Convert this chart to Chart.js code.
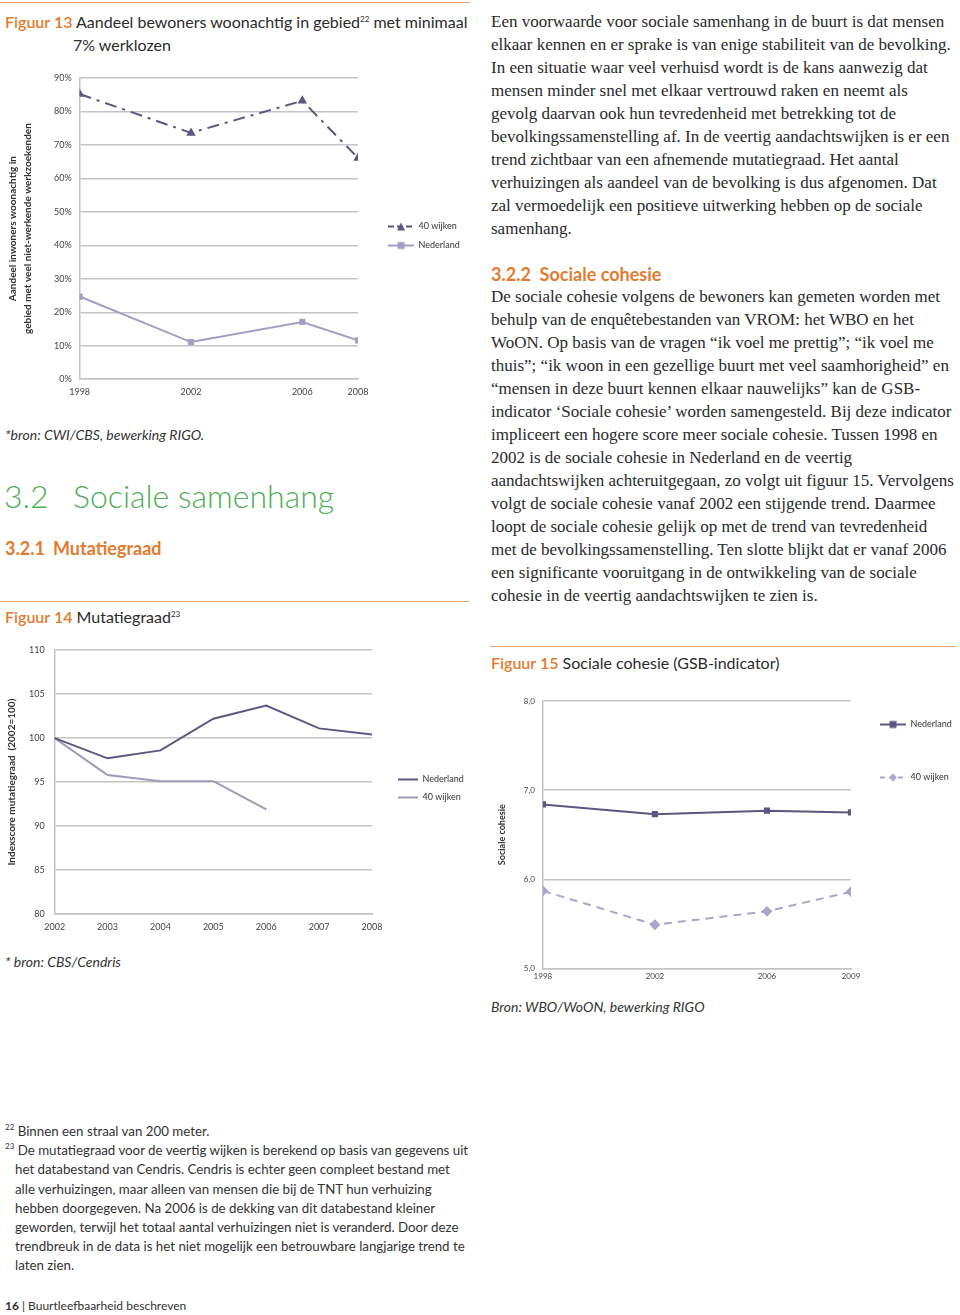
<!DOCTYPE html>
<html>
<head>
<meta charset="utf-8">
<script src="https://cdn.jsdelivr.net/npm/chart.js@4"></script>
<style>
  body { margin:0; width:960px; height:1315px; position:relative; background:#fff; color:#2b2b2b; font-family:Lato, sans-serif; overflow:hidden; }
  .abs { position:absolute; white-space:nowrap; }
  .rule { position:absolute; height:1px; background:#e8a070; }
  .fig { font-size:16px; }
  .fig b { color:#e27b2f; font-weight:600; }
  sup { font-size:8px; vertical-align:6px; line-height:0; }
  .serif { font-family:"Liberation Serif", serif; font-size:17px; line-height:23px; color:#2a2a2a; }
  .ital { font-style:italic; font-size:14px; color:#333; }
  .foot { font-size:13.3px; line-height:19.2px; color:#333; }
  .wrap { position:absolute; }
</style>
</head>
<body>

<div class="rule" style="left:0;top:2px;width:470px;"></div>
<div class="abs fig" style="left:5px;top:12px;"><b>Figuur 13</b> Aandeel bewoners woonachtig in gebied<sup>22</sup> met minimaal</div>
<div class="abs fig" style="left:73px;top:35px;">7% werklozen</div>

<div class="wrap" style="left:0;top:62px;width:472px;height:342px;"><canvas id="fig13" width="472" height="342"></canvas></div>

<div class="abs ital" style="left:5px;top:426px;">*bron: CWI/CBS, bewerking RIGO.</div>
<div class="abs" style="left:4px;top:476px;font-size:32px;color:#4fae57;font-weight:300;">3.2</div>
<div class="abs" style="left:73px;top:476px;font-size:32px;color:#4fae57;font-weight:300;">Sociale samenhang</div>
<div class="abs" style="left:5px;top:537px;font-size:18px;color:#e27b2f;font-weight:700;">3.2.1</div>
<div class="abs" style="left:53px;top:537px;font-size:18px;color:#e27b2f;font-weight:700;">Mutatiegraad</div>
<div class="rule" style="left:0;top:601px;width:469px;"></div>
<div class="abs fig" style="left:5px;top:607px;"><b>Figuur 14</b> Mutatiegraad<sup>23</sup></div>

<div class="wrap" style="left:0;top:634px;width:472px;height:305px;"><canvas id="fig14" width="472" height="305"></canvas></div>

<div class="abs ital" style="left:5px;top:953px;">* bron: CBS/Cendris</div>

<div class="abs serif" style="left:491px;top:10px;">
Een voorwaarde voor sociale samenhang in de buurt is dat mensen<br>
elkaar kennen en er sprake is van enige stabiliteit van de bevolking.<br>
In een situatie waar veel verhuisd wordt is de kans aanwezig dat<br>
mensen minder snel met elkaar vertrouwd raken en neemt als<br>
gevolg daarvan ook hun tevredenheid met betrekking tot de<br>
bevolkingssamenstelling af. In de veertig aandachtswijken is er een<br>
trend zichtbaar van een afnemende mutatiegraad. Het aantal<br>
verhuizingen als aandeel van de bevolking is dus afgenomen. Dat<br>
zal vermoedelijk een positieve uitwerking hebben op de sociale<br>
samenhang.
</div>

<div class="abs" style="left:491px;top:263px;font-size:18px;color:#e27b2f;font-weight:700;">3.2.2&nbsp;&nbsp;Sociale cohesie</div>

<div class="abs serif" style="left:491px;top:285px;">
De sociale cohesie volgens de bewoners kan gemeten worden met<br>
behulp van de enquêtebestanden van VROM: het WBO en het<br>
WoON. Op basis van de vragen “ik voel me prettig”; “ik voel me<br>
thuis”; “ik woon in een gezellige buurt met veel saamhorigheid” en<br>
“mensen in deze buurt kennen elkaar nauwelijks” kan de GSB-<br>
indicator ‘Sociale cohesie’ worden samengesteld. Bij deze indicator<br>
impliceert een hogere score meer sociale cohesie. Tussen 1998 en<br>
2002 is de sociale cohesie in Nederland en de veertig<br>
aandachtswijken achteruitgegaan, zo volgt uit figuur 15. Vervolgens<br>
volgt de sociale cohesie vanaf 2002 een stijgende trend. Daarmee<br>
loopt de sociale cohesie gelijk op met de trend van tevredenheid<br>
met de bevolkingssamenstelling. Ten slotte blijkt dat er vanaf 2006<br>
een significante vooruitgang in de ontwikkeling van de sociale<br>
cohesie in de veertig aandachtswijken te zien is.
</div>

<div class="rule" style="left:490px;top:646px;width:466px;"></div>
<div class="abs fig" style="left:491px;top:653px;"><b>Figuur 15</b> Sociale cohesie (GSB-indicator)</div>

<div class="wrap" style="left:488px;top:684px;width:472px;height:300px;"><canvas id="fig15" width="472" height="300"></canvas></div>

<div class="abs ital" style="left:491px;top:998px;">Bron: WBO/WoON, bewerking RIGO</div>

<div class="abs foot" style="left:5px;top:1122px;">
<sup>22</sup> Binnen een straal van 200 meter.<br>
<sup>23</sup> De mutatiegraad voor de veertig wijken is berekend op basis van gegevens uit<br>
<span style="padding-left:10px">het databestand van Cendris. Cendris is echter geen compleet bestand met</span><br>
<span style="padding-left:10px">alle verhuizingen, maar alleen van mensen die bij de TNT hun verhuizing</span><br>
<span style="padding-left:10px">hebben doorgegeven. Na 2006 is de dekking van dit databestand kleiner</span><br>
<span style="padding-left:10px">geworden, terwijl het totaal aantal verhuizingen niet is veranderd. Door deze</span><br>
<span style="padding-left:10px">trendbreuk in de data is het niet mogelijk een betrouwbare langjarige trend te</span><br>
<span style="padding-left:10px">laten zien.</span>
</div>

<div class="abs" style="left:5px;top:1298px;font-size:12px;color:#333;"><b>16</b> | Buurtleefbaarheid beschreven</div>

<script>
// Figuur 13 - werkloosheid
var jaren13 = [1998, 2002, 2006, 2008];
var wijken13 = [85.2, 73.6, 83.2, 66.1];
var nederland13 = [24.7, 11.1, 17.1, 11.6];

// Figuur 14 - mutatiegraad
var jaren14 = ['2002', '2003', '2004', '2005', '2006', '2007', '2008'];
var nederland14 = [100, 97.7, 98.6, 102.2, 103.7, 101.1, 100.4];
var wijken14 = [100, 95.8, 95.1, 95.1, 91.9, null, null];

// Figuur 15 - sociale cohesie
var jaren15 = [1998, 2002, 2006, 2009];
var nederland15 = [6.84, 6.73, 6.77, 6.75];
var wijken15 = [5.87, 5.49, 5.64, 5.86];

var donker = '#5d5680';
var licht = '#a29fc3';
var grijs = '#c4c4c4';
var tekst = '#444';

function punten(jaren, waarden) {
  var p = [];
  for (var i = 0; i < jaren.length; i++) p.push({x: jaren[i], y: waarden[i]});
  return p;
}

// klein plaatje voor de legenda: lijn met marker
function icoon(kleur, streep, vorm, breed) {
  var c = document.createElement('canvas');
  c.width = breed; c.height = 10;
  var ctx = c.getContext('2d');
  var m = breed / 2;
  ctx.strokeStyle = kleur; ctx.fillStyle = kleur; ctx.lineWidth = 2;
  ctx.setLineDash(streep);
  ctx.beginPath(); ctx.moveTo(0, 5); ctx.lineTo(breed, 5); ctx.stroke();
  ctx.setLineDash([]);
  ctx.beginPath();
  if (vorm == 'rect') ctx.rect(m - 3.5, 1.5, 7, 7);
  if (vorm == 'triangle') { ctx.moveTo(m, 1); ctx.lineTo(m + 4, 9); ctx.lineTo(m - 4, 9); ctx.closePath(); }
  if (vorm == 'rectRot') { ctx.moveTo(m, 1); ctx.lineTo(m + 4, 5); ctx.lineTo(m, 9); ctx.lineTo(m - 4, 5); ctx.closePath(); }
  ctx.fill();
  return c;
}

function legenda(iconen, breed, afstand) {
  return {
    position: 'right',
    align: 'start',
    maxWidth: 60,
    labels: {
      usePointStyle: true,
      pointStyleWidth: breed,
      padding: afstand,
      color: '#333',
      font: {family: 'Lato', size: 9},
      generateLabels: function(chart) {
        var items = Chart.defaults.plugins.legend.labels.generateLabels(chart);
        items.forEach(function(it, i) { it.pointStyle = iconen[i]; });
        return items;
      }
    }
  };
}

// legenda op een vaste plek rechts van het plotvlak zetten
function legendaPlaats(gat, boven) {
  return {
    id: 'legendaPlaats',
    beforeDraw: function(chart) {
      var l = chart.legend;
      l.left = chart.chartArea.right + gat - l.options.labels.padding;
      l.right = chart.width;
      l.top = boven;
      l.bottom = chart.height;
    }
  };
}

var tickFont = {family: 'Lato', size: 9};

new Chart(document.getElementById('fig13'), {
  type: 'line',
  data: {
    datasets: [{
      label: '40 wijken',
      data: punten(jaren13, wijken13),
      borderColor: donker, backgroundColor: donker,
      borderWidth: 2, borderDash: [12, 6, 3, 6],
      pointStyle: 'triangle', pointRadius: 3.5
    }, {
      label: 'Nederland',
      data: punten(jaren13, nederland13),
      borderColor: licht, backgroundColor: licht,
      borderWidth: 2, pointStyle: 'rect', pointRadius: 3
    }]
  },
  plugins: [legendaPlaats(30, 150)],
  options: {
    responsive: false, animation: false,
    layout: {padding: {left: 5, top: 16, right: 54, bottom: 0}},
    plugins: {legend: legenda([icoon(donker, [6, 3], 'triangle', 26), icoon(licht, [], 'rect', 26)], 26, 10), tooltip: {enabled: false}},
    scales: {
      x: {
        type: 'linear', min: 1998, max: 2008,
        afterBuildTicks: function(s) { s.ticks = jaren13.map(function(v) { return {value: v}; }); },
        ticks: {font: tickFont, color: tekst, callback: function(v) { return String(v); }, maxRotation: 0, padding: 7},
        grid: {display: false, drawTicks: false},
        border: {color: grijs, width: 1.5}
      },
      y: {
        min: 0, max: 90,
        ticks: {stepSize: 10, font: tickFont, color: tekst, callback: function(v) { return v + '%'; }, padding: 8},
        grid: {color: grijs, lineWidth: 1.5, drawTicks: false},
        border: {color: grijs, width: 1.5},
        title: {display: true, text: ['Aandeel inwoners woonachtig in', 'gebied met veel niet-werkende werkzoekenden'],
                font: {family: 'Lato', size: 10, weight: 'bold', lineHeight: 1.5}, color: '#333', padding: {top: 0, bottom: 11}}
      }
    }
  }
});

new Chart(document.getElementById('fig14'), {
  type: 'line',
  data: {
    labels: jaren14,
    datasets: [{
      label: 'Nederland',
      data: nederland14,
      borderColor: donker, borderWidth: 2, pointRadius: 0
    }, {
      label: '40 wijken',
      data: wijken14,
      borderColor: '#9e9ab8', borderWidth: 2, pointRadius: 0
    }]
  },
  plugins: [legendaPlaats(26, 132)],
  options: {
    responsive: false, animation: false,
    layout: {padding: {left: 6, top: 16, right: 40, bottom: 0}},
    plugins: {legend: legenda([icoon(donker, [], '', 20), icoon('#9e9ab8', [], '', 20)], 20, 9), tooltip: {enabled: false}},
    scales: {
      x: {
        offset: false,
        ticks: {font: tickFont, color: tekst, maxRotation: 0, padding: 7},
        grid: {display: false, drawTicks: false},
        border: {color: grijs, width: 1.5}
      },
      y: {
        min: 80, max: 110,
        ticks: {stepSize: 5, font: tickFont, color: tekst, padding: 10},
        grid: {color: grijs, lineWidth: 1.5, drawTicks: false},
        border: {color: grijs, width: 1.5},
        title: {display: true, text: 'Indexscore mutatiegraad  (2002=100)',
                font: {family: 'Lato', size: 10, weight: 'bold'}, color: '#333', padding: {top: 0, bottom: 1}}
      }
    }
  }
});

new Chart(document.getElementById('fig15'), {
  type: 'line',
  data: {
    datasets: [{
      label: 'Nederland',
      data: punten(jaren15, nederland15),
      borderColor: donker, backgroundColor: donker,
      borderWidth: 2, pointStyle: 'rect', pointRadius: 3
    }, {
      label: '40 wijken',
      data: punten(jaren15, wijken15),
      borderColor: '#aaa6c8', backgroundColor: '#aaa6c8',
      borderWidth: 2, borderDash: [8, 6], pointStyle: 'rectRot', pointRadius: 4
    }]
  },
  plugins: [legendaPlaats(29, -8)],
  options: {
    responsive: false, animation: false,
    layout: {padding: {left: 9, top: 17, right: 49, bottom: 0}},
    plugins: {legend: legenda([icoon(donker, [], 'rect', 26), icoon('#aaa6c8', [5, 4], 'rectRot', 26)], 26, 44), tooltip: {enabled: false}},
    scales: {
      x: {
        type: 'linear', min: 1998, max: 2009,
        afterBuildTicks: function(s) { s.ticks = jaren15.map(function(v) { return {value: v}; }); },
        ticks: {font: {family: 'Lato', size: 8}, color: tekst, callback: function(v) { return String(v); }, maxRotation: 0, padding: 3},
        grid: {display: false, drawTicks: false},
        border: {color: grijs, width: 1.5}
      },
      y: {
        min: 5, max: 8,
        ticks: {stepSize: 1, font: {family: 'Lato', size: 8}, color: tekst, padding: 8,
                callback: function(v) { return v.toFixed(1).replace('.', ','); }},
        grid: {color: grijs, lineWidth: 1.5, drawTicks: false},
        border: {color: grijs, width: 1.5},
        title: {display: true, text: 'Sociale cohesie',
                font: {family: 'Lato', size: 9, weight: 'bold'}, color: '#333', padding: {top: 0, bottom: 8}}
      }
    }
  }
});
</script>
</body>
</html>
